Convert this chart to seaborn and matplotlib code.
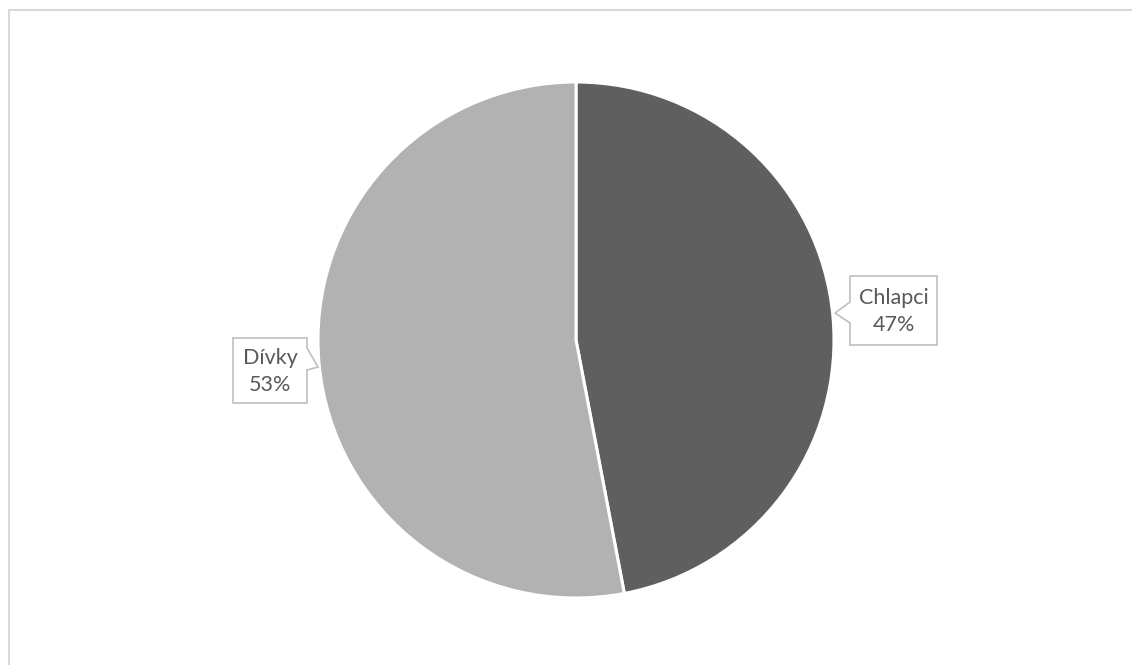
import matplotlib
matplotlib.use("Agg")
import matplotlib.pyplot as plt
import seaborn as sns
from matplotlib.patches import Polygon
from matplotlib.lines import Line2D

# === Data ===
kategorie = ["Chlapci", "Dívky"]
podily = [47, 53]
barvy = ["#5f5f5f", "#b2b2b2"]

sns.set_style("white")
plt.rcParams["font.family"] = ["Lato", "DejaVu Sans"]

W, H = 1132, 665
fig = plt.figure(figsize=(W / 100, H / 100), dpi=100)

# chart area border: only top and left edges are visible in the cropped image
fig.lines.append(Line2D([8.5 / W, 1], [1 - 9.5 / H, 1 - 9.5 / H], transform=fig.transFigure,
                        color="#d9d9d9", linewidth=1.5))
fig.lines.append(Line2D([8.5 / W, 8.5 / W], [0, 1 - 9.5 / H], transform=fig.transFigure,
                        color="#d9d9d9", linewidth=1.5))

R = 258
cx, cy = 576, 340
ax = fig.add_axes([(cx - R) / W, 1 - (cy + R) / H, 2 * R / W, 2 * R / H])

wedges, _ = ax.pie(podily, colors=barvy, startangle=90, counterclock=False,
                   wedgeprops=dict(edgecolor="white", linewidth=2.2), radius=1)
ax.set_xlim(-1, 1)
ax.set_ylim(-1, 1)
ax.set_aspect("equal")
ax.axis("off")


def px(x, y):
    # pixel -> data coordinates of the pie axes
    return ((x - cx) / R, (cy - y) / R)


def callout(text, box, base, tip, side):
    x0, y0, x1, y1 = box  # left, top, right, bottom in px
    b0, b1 = base
    if side == "left":
        pts = [(x0, y0), (x1, y0), (x1, y1), (x0, y1), (x0, b1), tip, (x0, b0)]
    else:
        pts = [(x0, y0), (x1, y0), (x1, b0), tip, (x1, b1), (x1, y1), (x0, y1)]
    poly = Polygon([px(*p) for p in pts], closed=True, facecolor="white",
                   edgecolor="#bfbfbf", linewidth=1.2, clip_on=False, zorder=3)
    ax.add_patch(poly)
    tx, ty = px((x0 + x1) / 2, (y0 + y1) / 2 + 1)
    ax.text(tx, ty, text, ha="center", va="center", fontsize=15.5, color="#595959",
            linespacing=1.45, zorder=4, clip_on=False)


callout(f"{kategorie[0]}\n{podily[0]}%", (850, 276, 937, 345), (302, 323), (835, 313), "left")
callout(f"{kategorie[1]}\n{podily[1]}%", (233, 338, 307, 403), (348, 370), (318, 367), "right")

fig.savefig("out.png", dpi=100)
